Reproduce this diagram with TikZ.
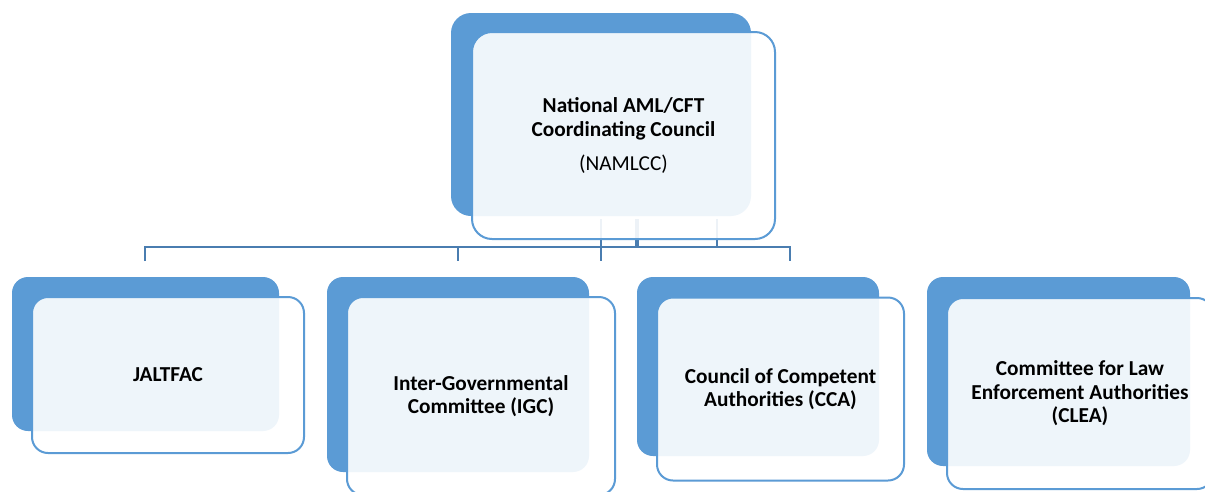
\documentclass[tikz,border=0pt]{standalone}
\usepackage{fontspec}
\setmainfont{Carlito}
\definecolor{accent}{HTML}{5B9BD5}
\definecolor{conn}{HTML}{4A7DB0}
\begin{document}
\begin{tikzpicture}[x=1pt,y=-1pt,
  backbox/.style={fill=accent, draw=none, rounded corners=#1, inner sep=0pt},
  backbox/.default=16pt,
  frontbox/.style={fill=white, fill opacity=0.9, text opacity=1, draw=accent, line width=2pt,
    rounded corners=#1, inner sep=0pt, align=center, text=black,
    font=\fontsize{21.3}{23.6}\selectfont\bfseries},
  frontbox/.default=16pt,
  connline/.style={draw=conn, line width=2.7pt, line join=miter}
]
\clip (0,0) rectangle (1205,491);
\fill[white] (0,0) rectangle (1205,491);
% back boxes
\node[backbox=20pt, minimum width=300pt, minimum height=203pt] (topback) at (601,114.5) {};
\node[backbox, minimum width=267pt, minimum height=154pt] (b1) at (145.5,354) {};
\node[backbox, minimum width=262pt, minimum height=195pt] (b2) at (458,374.5) {};
\node[backbox, minimum width=242pt, minimum height=179pt] (b3) at (758,366.5) {};
\node[backbox, minimum width=263pt, minimum height=189pt] (b4) at (1058.5,371.5) {};
% connectors
\coordinate (busL) at (145,247);
\coordinate (busR) at (790,247);
\coordinate (d1) at (145,261);
\coordinate (d2) at (458,261);
\coordinate (d3) at (601,261);
\coordinate (d4) at (790,261);
\coordinate (m2) at (458,247);
\coordinate (u1) at (637,219);
\coordinate (m5) at (637,247);
\coordinate (u2) at (717,219);
\coordinate (m6) at (717,247);
\draw[connline] (d1) |- (busR) -- (d4);
\draw[connline] (m2) -- (d2);
\draw[connline] (topback.south) ++(0,3) -- (d3);
\draw[connline, line width=3.2pt] (u1) -- (m5);
\draw[connline] (u2) -- (m6);
% front boxes
\node[frontbox=20pt, minimum width=303pt, minimum height=207pt] (top) at (623.5,135.5)
  {National AML/CFT\\Coordinating Council\\[10pt]{\mdseries (NAMLCC)}};
\node[frontbox, minimum width=272pt, minimum height=156pt] (jal) at (168,375) {JALTFAC};
\node[frontbox, minimum width=268pt, minimum height=198pt] (igc) at (481,396)
  {Inter-Governmental\\Committee (IGC)};
\node[frontbox, minimum width=247pt, minimum height=183pt] (cca) at (780.5,389)
  {Council of Competent\\Authorities (CCA)};
\node[frontbox, minimum width=266pt, minimum height=191pt] (clea) at (1080,393.5)
  {Committee for Law\\Enforcement Authorities\\(CLEA)};
\end{tikzpicture}
\end{document}
